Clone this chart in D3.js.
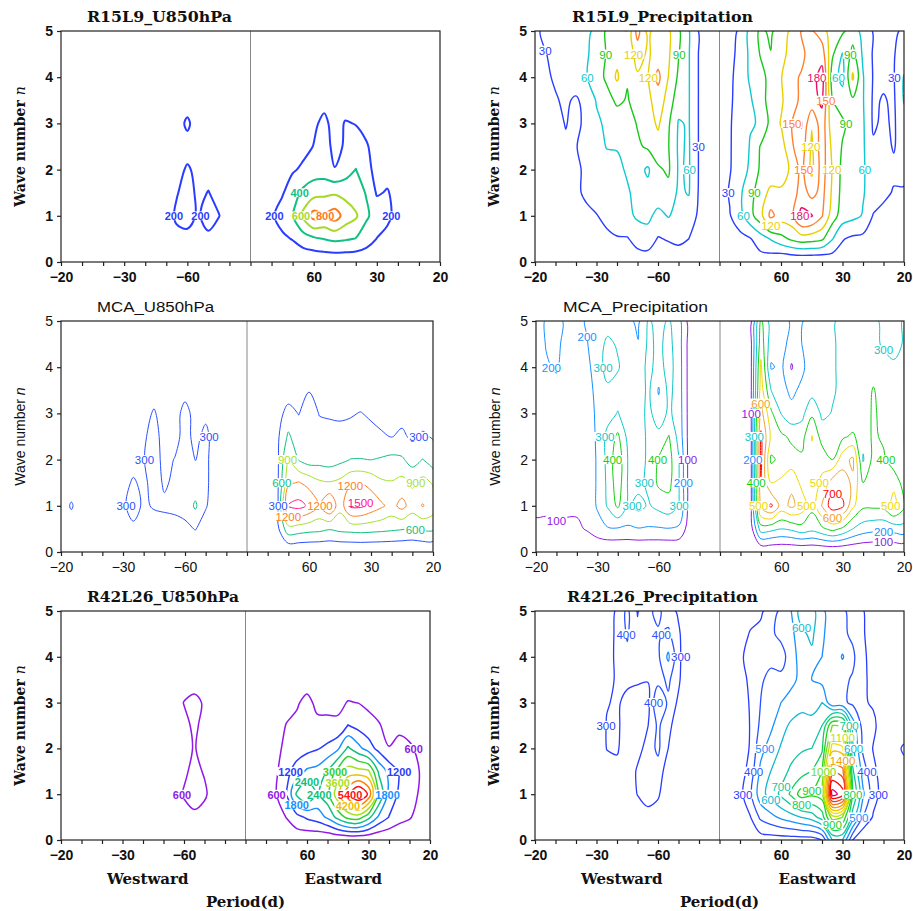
<!DOCTYPE html>
<html>
<head>
<meta charset="utf-8">
<script src="https://cdn.jsdelivr.net/npm/d3@7"></script>
<style>
body { margin: 0; background: #fff; }
</style>
</head>
<body>
<div id="chart"></div>
<script>
// ---- shared axes ----
var periodTicks = [-20, -30, -60, 60, 30, 20];
var waveTicks = [0, 1, 2, 3, 4, 5];
var waveRows = [5, 4.5, 4, 3.5, 3, 2.5, 2, 1.5, 1, 0.5, 0];   // grid rows, top to bottom
var freqCols = d3.range(-18, 19).map(function(i) { return i / 360; }); // grid columns, cycles/day

// ---- R15L9 U850 ----
var r15uLevels = [200, 400, 600, 800];
var r15uColors = ["#2a3cff", "#10c080", "#a8d828", "#ff7818"];
var r15uGrid = [
  [40,40,40,40,40,40,40,40,40,40,40,40,40,40,40,40,40,40,40,40,40,40,40,40,40,40,40,40,40,40,40,40,40,40,40,40,40],
  [50,50,50,50,50,50,50,50,50,50,50,50,50,50,50,50,50,50,50,50,50,50,50,50,50,50,50,50,50,50,50,50,50,50,50,50,50],
  [60,60,60,60,60,60,60,60,60,60,60,60,60,60,60,60,60,60,60,60,60,60,60,60,60,60,60,60,60,60,60,60,60,60,60,60,60],
  [70,70,70,70,70,70,70,70,70,70,70,100,130,100,80,80,80,80,80,80,80,80,80,100,130,150,110,130,120,100,70,70,70,70,70,70,70],
  [80,80,80,80,80,80,80,80,80,80,100,140,225,130,100,90,90,90,90,90,90,110,130,150,170,240,140,210,195,140,110,80,80,80,80,80,80],
  [90,90,90,90,90,90,90,90,90,90,110,150,150,130,120,110,100,100,100,100,110,130,150,150,205,260,160,215,260,220,120,110,100,80,80,80,80],
  [90,90,90,90,90,90,90,90,90,90,110,160,215,170,150,120,100,100,100,100,120,150,180,230,300,290,205,300,405,250,150,130,100,80,80,80,80],
  [100,100,100,100,100,100,100,100,100,100,110,190,260,170,205,150,110,100,100,100,110,180,300,450,520,560,570,540,470,390,180,215,130,90,70,70,70],
  [100,100,100,100,100,100,100,100,100,100,120,230,290,170,290,205,120,100,100,100,170,280,410,650,880,790,900,720,630,430,320,230,150,100,70,70,70],
  [90,90,90,90,90,90,90,90,90,90,100,150,130,120,150,120,90,90,90,90,120,160,210,300,360,405,440,420,390,300,195,160,110,80,60,60,60],
  [40,40,40,40,40,40,40,40,40,40,40,40,40,40,40,40,40,40,40,40,40,40,40,40,40,40,40,40,40,40,40,40,40,40,40,40,40]
];

// ---- R15L9 precipitation ----
var r15pLevels = [30, 60, 90, 120, 150, 180];
var r15pColors = ["#2a3cff", "#10c8d0", "#18c818", "#e8d000", "#ff8030", "#e8106a"];
var r15pGrid = [
  [25,35,40,45,50,55,65,95,100,92,160,110,140,125,95,62,28,22,18,25,32,70,95,85,105,125,152,152,135,100,95,75,50,28,22,25,35],
  [22,29,36,42,48,56,72,92,110,95,135,115,135,125,92,62,28,20,16,26,34,68,92,91,112,128,145,160,165,95,58,100,55,27,24,28,45],
  [20,26,33,40,47,58,78,95,125,92,115,118,158,120,85,62,28,20,15,27,36,66,80,100,118,145,152,165,195,75,50,125,62,28,25,28,62],
  [18,22,28,34,26,40,62,80,95,88,100,112,135,110,70,62,28,18,14,27,38,55,85,95,115,140,155,170,185,90,75,85,62,26,32,26,62],
  [16,20,24,31,24,36,55,65,75,78,92,105,125,95,58,62,28,18,14,28,40,58,62,100,122,148,183,122,170,100,95,80,64,26,35,26,50],
  [15,18,22,27,29,38,52,61,61,70,85,95,108,92,56,63,28,18,14,28,42,62,92,98,106,145,168,115,168,112,88,72,64,34,38,28,42],
  [14,16,20,24,27,33,45,52,56,62,72,55,85,95,57,63,28,18,14,28,46,65,95,100,105,125,160,112,165,118,82,72,64,42,40,35,38],
  [13,15,18,22,27,33,40,46,52,58,65,70,80,80,55,62,27,17,13,33,55,80,105,128,125,130,165,140,160,115,80,70,62,48,36,28,27],
  [12,14,16,19,22,26,29,36,44,52,65,68,50,62,50,45,25,16,12,28,50,80,110,158,135,140,188,182,152,105,75,68,58,28,22,20,18],
  [10,12,14,16,18,20,22,25,28,28,40,45,28,32,36,30,20,14,10,18,20,28,45,62,80,95,105,102,95,62,32,24,22,20,17,15,14],
  [8,9,10,11,12,13,14,15,16,17,16,15,14,14,14,13,12,10,8,10,12,14,17,10,0,0,0,0,0,10,15,15,13,12,11,10,10]
];

// ---- MCA U850 ----
var mcauLevels = [300, 600, 900, 1200, 1500];
var mcauColors = ["#2a50ff", "#10c080", "#a8e030", "#ff8020", "#ff1090"];
var mcauGrid = [
  [60,60,60,60,60,60,60,60,60,60,60,60,60,60,60,60,60,60,40,50,60,70,80,80,80,80,80,80,80,80,80,80,80,80,80,80,80],
  [70,70,70,70,70,70,70,70,70,70,70,70,70,70,70,70,70,70,50,60,70,80,100,100,100,100,100,100,100,100,100,100,100,100,100,100,100],
  [80,80,80,80,80,80,80,80,80,80,80,80,80,80,80,80,80,80,60,70,80,90,120,120,130,120,120,120,120,120,120,110,110,100,100,100,100],
  [100,100,100,100,100,100,100,100,100,180,120,140,200,130,150,100,80,60,60,70,80,100,150,140,290,160,150,140,150,160,140,130,120,110,100,110,100],
  [120,120,120,120,120,120,120,130,200,330,170,180,400,200,230,120,90,60,50,60,100,200,400,290,420,290,280,270,280,310,260,220,200,210,150,200,180],
  [140,140,140,140,140,140,140,170,260,400,200,200,400,220,380,140,100,60,40,60,110,260,650,420,400,380,360,360,380,400,380,330,290,350,250,330,280],
  [150,150,150,150,150,150,170,200,290,420,220,310,420,295,360,150,100,60,40,60,110,270,950,580,450,480,450,520,605,610,595,630,680,640,480,610,420],
  [160,200,160,160,160,170,220,330,240,400,270,340,400,420,360,150,100,60,40,60,110,280,1150,1220,1100,950,920,980,1150,1190,1100,950,920,1000,850,1000,870],
  [200,320,200,170,170,190,250,420,250,330,340,350,380,650,320,180,110,60,40,60,120,290,1520,1600,1450,1180,1510,1000,1550,1560,1400,1250,1100,1300,1050,1220,1050],
  [150,200,150,140,140,150,190,240,170,150,200,220,250,310,200,140,90,50,30,50,90,250,800,750,700,680,620,680,700,720,700,680,650,620,580,650,650],
  [80,80,80,80,80,80,80,80,80,80,80,80,80,100,80,80,80,80,20,30,40,60,0,0,0,0,0,0,0,0,0,0,0,0,0,0,0]
];

// ---- MCA precipitation ----
var mcapLevels = [100, 200, 300, 400, 500, 600, 700];
var mcapColors = ["#9018e8", "#1890ff", "#10c8c8", "#10d010", "#f0d800", "#f0a030", "#ff0000"];
var mcapGrid = [
  [150,210,230,180,170,210,240,260,250,220,180,310,270,310,230,60,40,30,25,30,35,70,420,250,260,180,190,260,270,290,320,330,330,320,280,280,305],
  [150,205,220,170,160,195,260,320,290,240,205,320,280,330,240,60,40,30,25,30,35,70,460,240,250,150,200,260,270,290,320,330,330,320,290,280,305],
  [150,190,210,160,150,175,250,340,310,250,240,330,260,340,245,60,40,30,25,30,35,70,520,190,220,90,180,250,260,290,320,310,320,340,330,310,305],
  [150,165,170,150,140,160,230,280,260,240,250,320,190,330,245,60,40,30,25,30,35,70,550,300,230,180,220,260,270,290,320,310,330,410,340,320,310],
  [140,150,150,140,130,150,220,260,305,250,250,330,240,320,250,60,40,30,25,30,35,70,640,420,295,230,270,380,280,305,330,310,330,420,360,320,310],
  [135,145,145,135,125,145,215,330,420,270,250,320,330,405,260,60,40,30,25,25,30,60,720,480,420,380,360,505,350,330,380,420,330,420,380,320,305],
  [130,140,140,130,120,140,210,330,470,295,250,320,410,440,300,60,40,30,25,25,30,60,730,380,430,440,420,480,470,400,560,620,290,430,420,330,320],
  [130,140,135,130,120,140,210,320,460,290,270,320,420,430,300,60,40,30,25,25,30,60,690,500,520,580,470,450,520,650,650,580,400,440,430,480,350],
  [120,125,125,125,120,135,210,310,420,280,330,290,330,360,300,60,40,30,25,25,30,60,630,720,560,620,560,430,610,760,720,520,420,420,430,530,420],
  [80,70,85,75,80,110,160,190,190,185,195,190,190,195,180,50,35,25,20,20,25,50,350,330,300,320,360,330,380,430,380,300,250,230,220,240,260],
  [20,10,10,10,10,0,0,0,0,0,0,0,0,0,0,10,10,10,10,10,10,10,0,0,0,0,0,0,0,0,0,0,0,0,0,0,0]
];

// ---- R42L26 U850 ----
var r42uLevels = [600, 1200, 1800, 2400, 3000, 3600, 4200, 4800, 5400, 6000];
var r42uColors = ["#9018e8", "#2a3cff", "#1890ff", "#10c080", "#30d030", "#a8e020", "#f0c000", "#ff8000", "#ff1010", "#e0007a"];
var r42uGrid = [
  [100,100,100,100,100,100,100,100,100,100,100,100,100,100,100,100,100,100,100,120,150,180,200,220,250,250,250,250,250,250,240,220,200,180,150,120,100],
  [120,120,120,120,120,120,120,120,120,120,120,120,120,120,120,120,120,120,120,150,180,220,260,280,300,300,300,300,300,300,280,260,230,200,170,140,110],
  [140,140,140,140,140,140,140,140,140,140,140,140,140,140,140,140,140,140,140,170,210,260,320,340,350,350,330,330,350,340,320,290,250,220,180,150,120],
  [150,150,150,150,150,150,150,150,150,150,150,200,300,400,300,200,150,150,150,180,240,300,350,400,400,350,330,330,360,350,300,220,200,180,150,120,100],
  [150,150,150,150,150,150,150,150,150,150,150,300,620,720,550,250,180,150,150,180,250,350,450,550,720,500,480,500,620,590,480,350,250,200,150,120,100],
  [150,150,150,150,150,150,150,150,150,150,150,250,450,700,450,220,150,150,150,200,300,420,620,700,800,700,700,680,1220,1000,800,650,400,450,350,250,150],
  [150,150,150,150,150,150,150,150,150,150,150,250,400,640,400,220,150,150,150,200,320,500,700,850,1000,1150,1350,1700,2500,2000,1500,1000,620,800,700,450,250],
  [150,150,150,150,150,150,150,150,150,150,150,350,500,750,550,250,150,150,150,200,320,520,1000,1500,1900,2000,2450,3200,3900,3800,3700,2300,1600,1200,1000,580,300],
  [150,150,150,150,150,150,150,150,150,150,250,400,650,900,700,300,200,150,150,200,350,580,1230,2500,3020,2300,2800,4000,5200,6200,5300,3000,1600,1100,800,550,300],
  [150,150,150,150,150,150,150,150,150,150,150,150,400,450,350,150,150,150,120,150,200,350,620,1000,1300,1500,1900,2600,3200,3300,2600,1700,1180,800,650,400,200],
  [100,100,100,100,100,100,100,100,100,100,100,100,100,100,100,100,100,100,80,80,80,100,200,200,100,50,0,0,0,0,0,0,50,100,150,100,50]
];

// ---- R42L26 precipitation ----
var r42pLevels = [300, 400, 500, 600, 700, 800, 900, 1000, 1100, 1200, 1300, 1400, 1500, 1600, 1700, 1800];
var r42pColors = ["#2a3cff", "#2a50ff", "#1890ff", "#10b8d0", "#10c8a0", "#10d060", "#20d020", "#70e010",
                  "#c0e010", "#f0e000", "#f0c000", "#f0a000", "#f07020", "#f04020", "#ff0000", "#e0007a"];
var r42pGrid = [
  [120,130,140,150,160,170,180,220,320,420,290,380,420,350,280,200,160,130,100,150,200,250,280,350,420,500,650,640,520,450,420,360,305,250,200,180,160],
  [120,130,140,150,160,170,180,230,330,410,330,370,390,420,320,200,160,130,100,160,240,310,330,380,430,470,580,620,520,440,420,380,310,250,210,190,170],
  [120,130,140,150,160,170,180,240,330,380,390,400,380,520,330,190,160,130,100,170,280,340,360,380,350,460,540,580,500,420,510,420,320,260,220,200,180],
  [120,130,140,150,160,170,180,250,320,330,320,305,360,420,320,190,160,130,100,170,260,320,390,420,430,480,520,500,470,430,420,390,320,270,230,210,180],
  [120,130,140,150,160,165,170,290,320,260,230,260,510,380,280,180,150,120,100,160,240,310,400,450,500,530,560,540,600,420,420,380,310,290,240,220,200],
  [110,120,130,140,150,155,160,310,330,220,220,295,420,330,240,170,150,120,100,150,230,305,420,480,560,620,650,650,700,1000,980,550,360,320,250,230,210],
  [110,120,130,140,145,150,150,305,320,210,250,350,420,300,220,160,140,120,100,150,230,310,470,540,610,660,690,700,780,1250,1220,620,380,295,260,250,320],
  [100,110,120,130,135,140,140,220,250,200,320,380,360,240,180,150,130,110,100,160,250,340,520,600,660,720,750,800,900,1600,1550,720,450,320,260,240,250],
  [100,110,120,125,130,130,130,170,180,200,305,360,320,200,160,140,120,100,100,170,270,380,560,640,720,820,950,920,950,1850,1750,800,520,340,260,230,210],
  [90,100,110,115,120,120,120,140,150,160,200,250,230,170,140,130,110,90,90,150,220,295,420,470,520,560,605,650,750,1050,1000,650,400,290,230,200,180],
  [80,80,80,80,80,80,80,80,80,80,80,80,80,80,80,80,80,80,80,120,180,200,250,250,250,250,250,250,300,600,600,300,200,180,160,150,140]
];

var boldFace = "'DejaVu Serif', serif";
var sansFace = "'Liberation Sans', Arial, sans-serif";

var panels = [
  { title: "R15L9_U850hPa", titleX: 87, titleW: 145, grid: r15uGrid, levels: r15uLevels, colors: r15uColors,
    box: [61, 31, 440, 262], bold: true, lw: 2, labelBold: true },
  { title: "R15L9_Precipitation", titleX: 572, titleW: 181, grid: r15pGrid, levels: r15pLevels, colors: r15pColors,
    box: [535, 31, 904, 262], bold: true, lw: 1.4, labelBold: false },
  { title: "MCA_U850hPa", titleX: 97, titleW: 117, grid: mcauGrid, levels: mcauLevels, colors: mcauColors,
    box: [61, 321, 433, 552], bold: false, lw: 1, labelBold: false },
  { title: "MCA_Precipitation", titleX: 563, titleW: 145, grid: mcapGrid, levels: mcapLevels, colors: mcapColors,
    box: [536, 321, 904, 552], bold: false, lw: 1, labelBold: false },
  { title: "R42L26_U850hPa", titleX: 87, titleW: 152, grid: r42uGrid, levels: r42uLevels, colors: r42uColors,
    box: [61, 611, 430, 840], bold: true, lw: 1.5, labelBold: true, bottom: true },
  { title: "R42L26_Precipitation", titleX: 567, titleW: 191, grid: r42pGrid, levels: r42pLevels, colors: r42pColors,
    box: [535, 611, 904, 840], bold: true, lw: 1.3, labelBold: false, bottom: true }
];

var svg = d3.select("#chart").append("svg").attr("width", 913).attr("height", 911);
svg.append("rect").attr("width", 913).attr("height", 911).attr("fill", "#fff");
var defs = svg.append("defs");

function periodLabel(f) {
  var hit = periodTicks.filter(function(p) { return Math.abs(1 / p - f) < 1e-6; });
  return hit.length ? String(hit[0]).replace("-", "\u2212") : "";
}

panels.forEach(function(p, k) {
  var x0 = p.box[0], y0 = p.box[1], x1 = p.box[2], y1 = p.box[3];
  var x = d3.scaleLinear().domain([-0.05, 0.05]).range([x0, x1]);
  var y = d3.scaleLinear().domain([0, 5]).range([y1, y0]);
  var nx = freqCols.length, ny = waveRows.length;
  p.grid.forEach(function(r, j) { if (r.length !== nx) throw new Error(p.title + " row " + j + " has " + r.length); });
  if (p.grid.length !== ny) throw new Error(p.title + " rows " + p.grid.length);

  // pad the grid with zeros so contours close outside the frame
  var W = nx + 2, H = ny + 2;
  var vals = new Array(W * H).fill(0);
  p.grid.forEach(function(r, j) { r.forEach(function(v, i) { vals[(j + 1) * W + i + 1] = v; }); });
  var gx = d3.scaleLinear().domain([1.5, nx + 0.5]).range([x(freqCols[0]), x(freqCols[nx - 1])]);
  var gy = d3.scaleLinear().domain([1.5, ny + 0.5]).range([y(waveRows[0]), y(waveRows[ny - 1])]);
  var contours = d3.contours().size([W, H]).thresholds(p.levels)(vals);

  var fontFace = p.bold ? boldFace : sansFace;
  var fw = p.bold ? "bold" : "normal";

  defs.append("clipPath").attr("id", "clip" + k)
    .append("rect").attr("x", x0).attr("y", y0).attr("width", x1 - x0).attr("height", y1 - y0);

  var g = svg.append("g");
  var lines = g.append("g").attr("clip-path", "url(#clip" + k + ")");
  var line = d3.line().curve(d3.curveCatmullRomClosed.alpha(0.5));

  var rings = [];
  contours.forEach(function(c, li) {
    c.coordinates.forEach(function(poly) {
      poly.forEach(function(ring) {
        var pts = ring.map(function(q) { return [gx(q[0]), gy(q[1])]; });
        if (pts.length > 1) {
          var a = pts[0], b = pts[pts.length - 1];
          if (a[0] === b[0] && a[1] === b[1]) pts.pop();
        }
        if (pts.length < 3) return;
        lines.append("path").attr("d", line(pts)).attr("fill", "none")
          .attr("stroke", p.colors[li]).attr("stroke-width", p.lw).attr("stroke-linejoin", "round");
        rings.push({ li: li, pts: pts });
      });
    });
  });

  // center line
  g.append("line").attr("x1", x(0)).attr("x2", x(0)).attr("y1", y0).attr("y2", y1)
    .attr("stroke", "#888").attr("stroke-width", 1);

  // contour labels: leftmost free spot of each ring, plus the rightmost one on long rings
  var placed = [];
  var labG = g.append("g");
  var fs = p.labelBold ? 11 : 11.5;
  function tryPlace(cands, txt, color, w, h) {
    for (var t = 0; t < cands.length; t++) {
      var q = cands[t];
      var bb = [q[0] - w / 2, q[1] - h / 2, q[0] + w / 2, q[1] + h / 2];
      var hit = placed.some(function(o) { return bb[0] < o[2] + 2 && bb[2] > o[0] - 2 && bb[1] < o[3] + 1 && bb[3] > o[1] - 1; });
      if (!hit) {
        placed.push(bb);
        labG.append("rect").attr("x", bb[0]).attr("y", bb[1]).attr("width", w).attr("height", h).attr("fill", "#fff");
        labG.append("text").attr("x", q[0]).attr("y", q[1] + h / 2).attr("text-anchor", "middle")
          .attr("font-family", sansFace).attr("font-size", fs).attr("font-weight", p.labelBold ? "bold" : "normal")
          .attr("fill", color).text(txt);
        return true;
      }
    }
    return false;
  }
  rings.forEach(function(r) {
    var per = 0;
    for (var i = 1; i < r.pts.length; i++) per += Math.hypot(r.pts[i][0] - r.pts[i - 1][0], r.pts[i][1] - r.pts[i - 1][1]);
    if (per < 30) return;
    var txt = String(p.levels[r.li]);
    var w = txt.length * (fs * 0.6) + 1, h = fs * 0.8;
    var cands = r.pts.filter(function(q) {
      return q[0] > x0 + w / 2 + 2 && q[0] < x1 - w / 2 - 2 && q[1] > y0 + h / 2 + 2 && q[1] < y1 - h / 2 - 1;
    }).sort(function(a, b) { return a[0] - b[0]; });
    tryPlace(cands, txt, p.colors[r.li], w, h);
    if (per > 260) tryPlace(cands.slice().reverse(), txt, p.colors[r.li], w, h);
  });

  // frame
  g.append("rect").attr("x", x0).attr("y", y0).attr("width", x1 - x0).attr("height", y1 - y0)
    .attr("fill", "none").attr("stroke", "#222").attr("stroke-width", 1.2);

  // axes
  var xa = g.append("g").attr("transform", "translate(0," + y1 + ")")
    .call(d3.axisBottom(x).tickValues(d3.range(-9, 10).map(function(i) { return i / 180; }))
      .tickSize(4).tickPadding(3).tickFormat(periodLabel));
  var ya = g.append("g").attr("transform", "translate(" + x0 + ",0)")
    .call(d3.axisLeft(y).tickValues(waveTicks).tickSize(4).tickPadding(4).tickFormat(d3.format("d")));
  [xa, ya].forEach(function(a) {
    a.select(".domain").remove();
    a.selectAll(".tick line").attr("stroke", "#222").attr("stroke-width", 1.2);
    a.selectAll("text").attr("font-family", sansFace).attr("font-size", 14).attr("font-weight", fw).attr("fill", "#111");
  });
  xa.selectAll("text").attr("dy", "0.95em");

  // title
  g.append("text").attr("x", p.titleX).attr("y", y0 - 9).attr("font-family", fontFace).attr("font-size", 14)
    .attr("font-weight", fw).attr("textLength", p.titleW).attr("lengthAdjust", "spacingAndGlyphs")
    .attr("fill", "#111").text(p.title);

  // y label
  var yl = g.append("text").attr("transform", "translate(" + (x0 - 36) + "," + ((y0 + y1) / 2) + ") rotate(-90)")
    .attr("text-anchor", "middle").attr("font-family", fontFace).attr("font-size", 14)
    .attr("font-weight", fw).attr("fill", "#111");
  yl.append("tspan").text("Wave number ");
  yl.append("tspan").attr("font-style", "italic").attr("font-weight", "normal").text("n");

  if (p.bottom) {
    [["Westward", x(-0.0265), y1 + 44], ["Eastward", x(0.0265), y1 + 44], ["Period(d)", x(0), y1 + 67]].forEach(function(t) {
      g.append("text").attr("x", t[1]).attr("y", t[2]).attr("text-anchor", "middle")
        .attr("font-family", boldFace).attr("font-size", 15).attr("font-weight", "bold").attr("fill", "#111").text(t[0]);
    });
  }
});
</script>
</body>
</html>
